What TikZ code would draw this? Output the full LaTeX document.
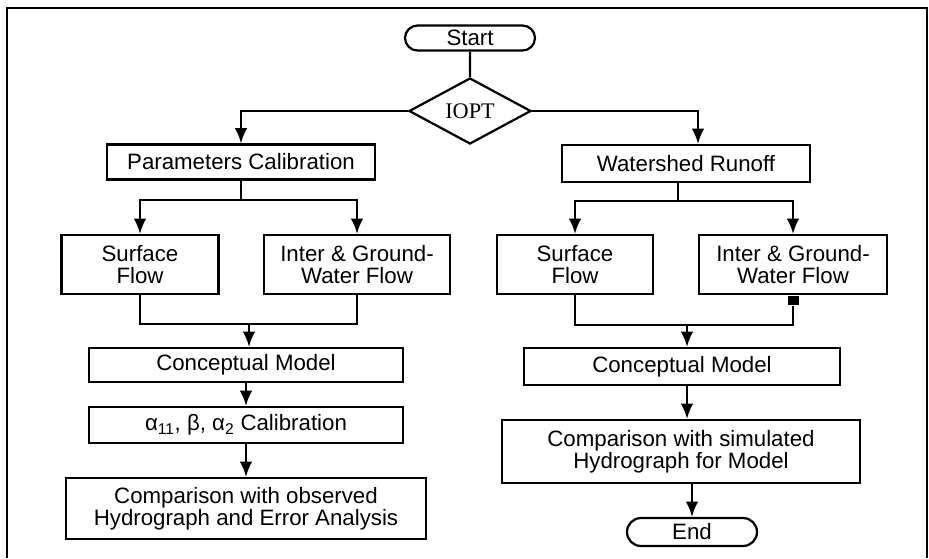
\documentclass[tikz,border=0pt]{standalone}
\usepackage{fontspec}
\setmainfont{Liberation Sans}
\newfontfamily\ioptfont{Liberation Serif}
\usetikzlibrary{shapes}
\usetikzlibrary{arrows.meta}
\usetikzlibrary{calc}

\begin{document}
\begin{tikzpicture}[x=0.3mm,y=-0.3mm,line width=1.9pt,
  >={Latex[length=4.6mm,width=3.8mm]},
  box/.style={draw,rectangle,inner sep=0pt,align=center,font=\fontsize{19}{19}\selectfont},
  term/.style={draw,rounded rectangle,inner sep=0pt,minimum width=39mm,minimum height=7.5mm,font=\fontsize{19}{19}\selectfont}]
\useasboundingbox (0,0) rectangle (929,558);
\draw[line width=1.6pt] (7,558) -- (7,8) -- (927,8) -- (927,558);
\node[term] (start) at (470,38) {Start};
\node[draw,diamond,inner sep=0pt,minimum width=36.6mm,minimum height=19.8mm,font=\ioptfont\fontsize{19}{19}\selectfont] (iopt) at (470,111) {IOPT};
\node[box,minimum width=80.4mm,minimum height=10.5mm] (param) at (241,162) {Parameters Calibration};
\node[box,minimum width=74.4mm,minimum height=11.1mm] (water) at (686,163.5) {Watershed Runoff};
\node[box,minimum width=47.1mm,minimum height=17.7mm] (surfL) at (140,264.5) {Surface\\Flow};
\node[box,minimum width=55.8mm,minimum height=17.7mm] (interL) at (357,264.5) {Inter \& Ground-\\Water Flow};
\node[box,minimum width=46.8mm,minimum height=17.7mm] (surfR) at (575,264.5) {Surface\\Flow};
\node[box,minimum width=56.4mm,minimum height=17.7mm] (interR) at (793,264.5) {Inter \& Ground-\\Water Flow};
\node[fill,inner sep=0pt,minimum width=3.3mm,minimum height=2.7mm,anchor=north] (sq) at (interR.south) {};
\node[box,minimum width=94.2mm,minimum height=10.2mm] (concL) at (246,365) {Conceptual Model};
\node[box,minimum width=94.2mm,minimum height=10.8mm] (alpha) at (246,425) {α\textsubscript{11}, β, α\textsubscript{2} Calibration};
\node[box,minimum width=108mm,minimum height=18.3mm] (compL) at (246,508.5) {Comparison with observed\\Hydrograph and Error Analysis};
\node[box,minimum width=94.8mm,minimum height=11.1mm] (concR) at (682,366.5) {Conceptual Model};
\node[box,minimum width=107.4mm,minimum height=18.9mm] (compR) at (681,451.5) {Comparison with simulated\\Hydrograph for Model};
\node[term,minimum height=8.4mm] (end) at (692,532) {End};
\draw (start) -- (iopt);
\draw[->] (iopt.west) -| (param.north);
\draw[->] (iopt.east) -| ($(water.north)+(12,0)$);
\draw (param.south) -- ++(0,19) coordinate (ps);
\draw[->] (ps) -| (surfL.north);
\draw[->] (ps) -| (interL.north);
\draw ($(water.south)+(-8,0)$) -- ++(0,18) coordinate (ws);
\draw[->] (ws) -| (surfR.north);
\draw[->] (ws) -| (interR.north);
\draw (surfL.south) -- ++(0,29) coordinate (jl1) -| (interL.south);
\draw[->] ($(jl1)+(109,0)$) coordinate (jl) -- (jl |- concL.north);
\draw (surfR.south) -- ++(0,30) coordinate (jr1) -| (sq.south);
\draw[->] ($(jr1)+(112,0)$) coordinate (jr) -- (jr |- concR.north);
\draw[->] (concL) -- (alpha);
\draw[->] (alpha) -- (compL);
\draw[->] (concR.south -| jr) -- (compR.north -| jr);
\draw[->] (compR.south -| end.north) -- (end.north);
\end{tikzpicture}
\end{document}
